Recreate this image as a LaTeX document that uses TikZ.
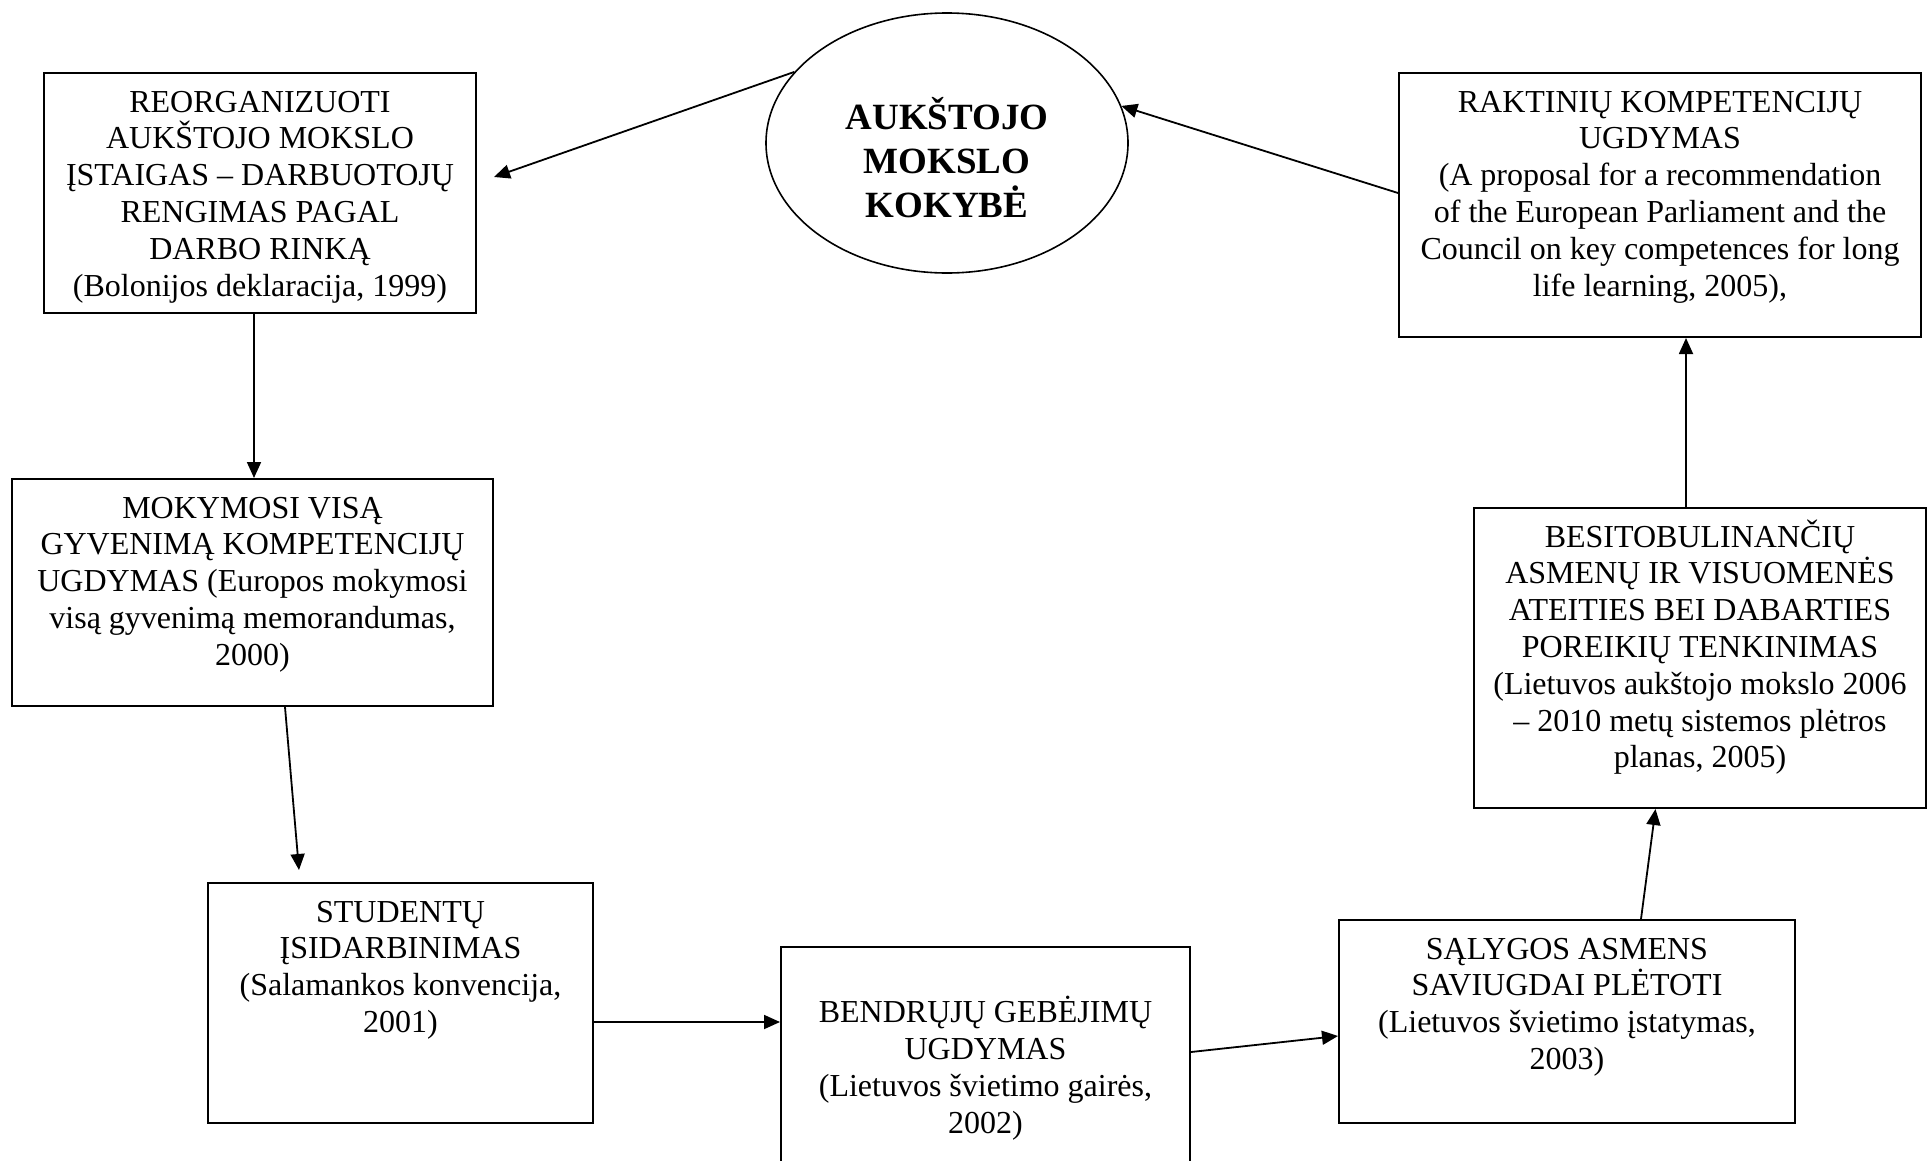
\documentclass[tikz,border=0pt]{standalone}
\usepackage{fontspec}
\setmainfont{Liberation Serif}
\usetikzlibrary{arrows.meta,shapes.geometric}

% text of a stage box, set from the top edge
\newcommand{\stagetext}[3]{\parbox[c][#2][t]{#1}{\centering\rule{0pt}{39pt}#3}}

\begin{document}
\begin{tikzpicture}[x=1pt,y=-1pt,
    stage/.style={draw, line width=2pt, inner sep=0pt, font=\fontsize{32}{36.8}\selectfont},
    goal/.style={draw, ellipse, line width=1.6pt, inner sep=0pt, minimum width=362pt, minimum height=260pt, font=\fontsize{37}{44}\selectfont\bfseries},
    arr/.style={-{Triangle[length=16pt,width=14pt]}, line width=1.8pt}]

\useasboundingbox (0,0) rectangle (1928,1160);

\node[goal] (kokybe) at (947,143) {\parbox[c][180pt][c]{250pt}{\centering\vspace*{30pt}AUKŠTOJO\\MOKSLO\\KOKYBĖ}};

\node[stage] (reorg) at (260,193) {\stagetext{432pt}{240pt}{REORGANIZUOTI\\AUKŠTOJO MOKSLO\\ĮSTAIGAS – DARBUOTOJŲ\\RENGIMAS PAGAL\\DARBO RINKĄ\\(Bolonijos deklaracija, 1999)}};
\node[stage] (raktin) at (1660,205) {\stagetext{522pt}{264pt}{RAKTINIŲ KOMPETENCIJŲ\\UGDYMAS\\ (A proposal for a recommendation\\of the European Parliament and the\\Council on key competences for long\\life learning, 2005),}};
\node[stage] (mokym) at (252.5,592.5) {\stagetext{481pt}{227pt}{MOKYMOSI VISĄ\\GYVENIMĄ KOMPETENCIJŲ\\UGDYMAS (Europos mokymosi\\visą gyvenimą memorandumas,\\2000)}};
\node[stage] (besitob) at (1700,658) {\stagetext{452pt}{300pt}{BESITOBULINANČIŲ\\ASMENŲ IR VISUOMENĖS\\ATEITIES BEI DABARTIES\\POREIKIŲ TENKINIMAS\\(Lietuvos aukštojo mokslo 2006\\– 2010 metų sistemos plėtros\\planas, 2005)}};
\node[stage] (stud) at (400.5,1003) {\stagetext{385pt}{240pt}{STUDENTŲ\\ĮSIDARBINIMAS\\(Salamankos konvencija,\\2001)}};
\node[stage] (bendr) at (985.5,1067) {\stagetext{409pt}{240pt}{\\BENDRŲJŲ GEBĖJIMŲ\\UGDYMAS\\(Lietuvos švietimo gairės,\\2002)}};
\node[stage] (salyg) at (1567,1021.5) {\stagetext{456pt}{203pt}{SĄLYGOS ASMENS\\SAVIUGDAI PLĖTOTI\\(Lietuvos švietimo įstatymas,\\2003)}};

\coordinate (reorgtip) at (494,177);
\coordinate (studtip) at (299,870);

\draw[arr] (kokybe.155) -- (reorgtip);
\draw[arr] ([yshift=12pt]raktin.west) -- (kokybe.12);
\draw[arr] ([xshift=-6pt]reorg.south) -- ([xshift=-6pt]reorg.south |- mokym.north);
\draw[arr] ([xshift=32.5pt]mokym.south) -- (studtip);
\draw[arr] ([yshift=-19pt]stud.east) -- ([yshift=-19pt]stud.east -| bendr.west);
\draw[arr] ([yshift=15pt]bendr.east) -- ([yshift=-14.5pt]salyg.west);
\draw[arr] ([xshift=74pt]salyg.north) -- ([xshift=-44.5pt]besitob.south);
\draw[arr] ([xshift=-14pt]besitob.north) -- ([xshift=-14pt]besitob.north |- raktin.south);
\end{tikzpicture}
\end{document}
